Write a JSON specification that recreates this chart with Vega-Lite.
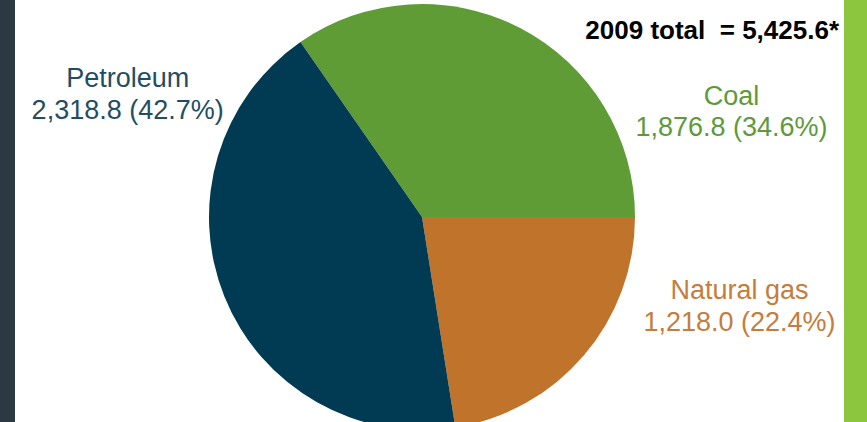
{
  "$schema": "https://vega.github.io/schema/vega-lite/v6.json",
  "width": 844,
  "height": 434,
  "autosize": "none",
  "padding": {"left": 0, "top": 0, "right": 23, "bottom": -12},
  "background": "#8cc63f",
  "view": {
    "stroke": null,
    "fill": {
      "gradient": "linear", "x1": 0, "x2": 1, "y1": 0, "y2": 0,
      "stops": [
        {"offset": 0, "color": "#2b3a42"},
        {"offset": 0.0178, "color": "#2b3a42"},
        {"offset": 0.0179, "color": "#ffffff"},
        {"offset": 1, "color": "#ffffff"}
      ]
    }
  },
  "title": {
    "text": "2009 total\u00a0\u00a0= 5,425.6*",
    "orient": "top",
    "anchor": "end",
    "frame": "group",
    "offset": 0,
    "baseline": "alphabetic",
    "dy": 65,
    "dx": -5,
    "font": "Liberation Sans",
    "fontSize": 26,
    "fontWeight": "bold",
    "color": "#000000"
  },
  "data": {
    "values": [
      {"name": "Coal", "value": 1876.8, "label": "Coal\n1,876.8 (34.6%)"},
      {"name": "Natural gas", "value": 1218.0, "label": "Natural gas\n1,218.0 (22.4%)"},
      {"name": "Petroleum", "value": 2318.8, "label": "Petroleum\n2,318.8 (42.7%)"}
    ]
  },
  "transform": [
    {"stack": "value", "groupby": [], "sort": [{"field": "name", "order": "ascending"}], "as": ["v0", "v1"]}
  ],
  "layer": [
    {
      "mark": {"type": "arc", "outerRadius": 213, "stroke": null},
      "encoding": {
        "theta": {"field": "v0", "type": "quantitative", "scale": {"domain": [0, 5413.6], "range": [-0.6075, 5.6757]}},
        "theta2": {"field": "v1"},
        "color": {
          "field": "name", "type": "nominal", "legend": null,
          "scale": {"domain": ["Coal", "Natural gas", "Petroleum"], "range": ["#5f9c35", "#c0732b", "#013a53"]}
        }
      }
    },
    {
      "transform": [{"filter": "datum.name === 'Coal'"}],
      "mark": {"type": "text", "radius": 332, "thetaOffset": 1.808, "align": "center", "baseline": "middle", "lineBreak": "\n", "lineHeight": 31, "font": "Liberation Sans", "fontSize": 27, "fill": "#5e9a3c"},
      "encoding": {
        "theta": {"field": "v0", "type": "quantitative"},
        "text": {"field": "label", "type": "nominal"}
      }
    },
    {
      "transform": [{"filter": "datum.name === 'Natural gas'"}],
      "mark": {"type": "text", "radius": 326, "thetaOffset": 0.229, "align": "center", "baseline": "middle", "lineBreak": "\n", "lineHeight": 32, "font": "Liberation Sans", "fontSize": 27, "fill": "#c47d3c"},
      "encoding": {
        "theta": {"field": "v0", "type": "quantitative"},
        "text": {"field": "label", "type": "nominal"}
      }
    },
    {
      "transform": [{"filter": "datum.name === 'Petroleum'"}],
      "mark": {"type": "text", "radius": 325, "thetaOffset": 2.166, "align": "center", "baseline": "middle", "lineBreak": "\n", "lineHeight": 32, "font": "Liberation Sans", "fontSize": 27, "fill": "#1f4e63"},
      "encoding": {
        "theta": {"field": "v0", "type": "quantitative"},
        "text": {"field": "label", "type": "nominal"}
      }
    }
  ]
}
